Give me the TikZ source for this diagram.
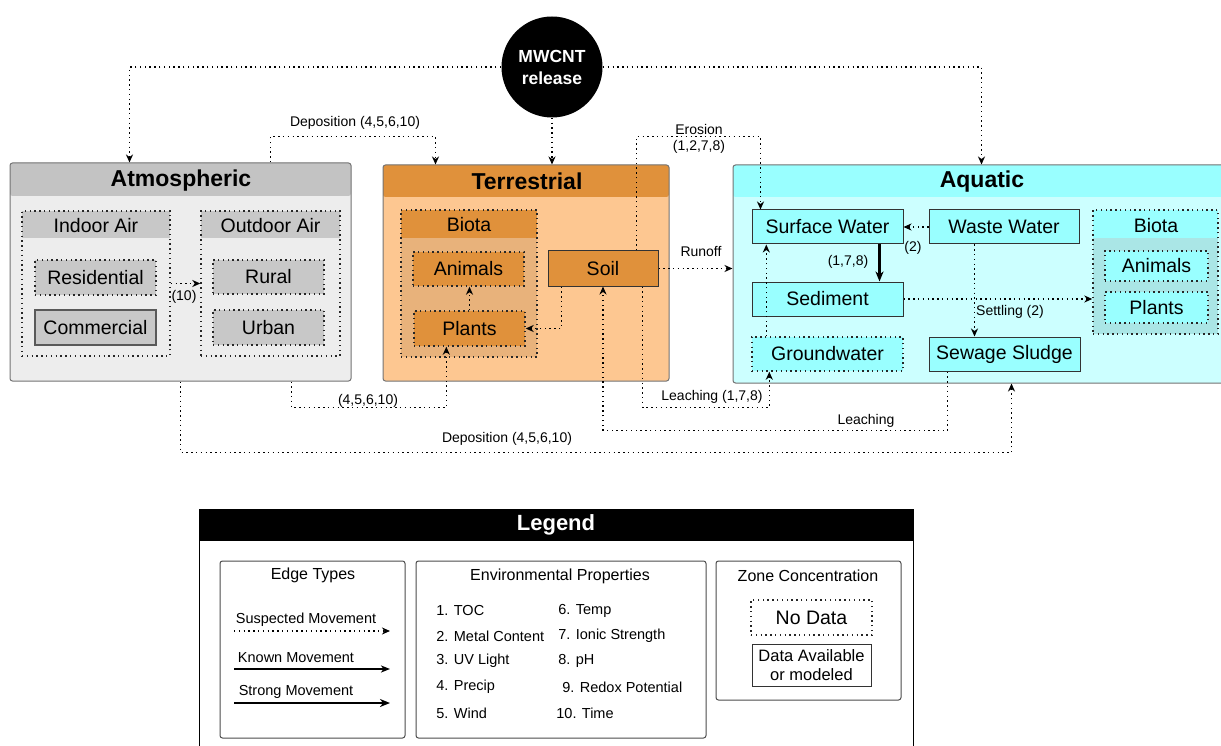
\documentclass[tikz,border=0pt]{standalone}
\usepackage{fontspec}
\setmainfont{Liberation Sans}
\usetikzlibrary{arrows.meta}
\definecolor{atmhead}{HTML}{C3C3C3}
\definecolor{atmbody}{HTML}{EDEDED}
\definecolor{atmleaf}{HTML}{C8C8C8}
\definecolor{terhead}{HTML}{E0913B}
\definecolor{terbody}{HTML}{FDC791}
\definecolor{terbiota}{HTML}{E8B27B}
\definecolor{aquhead}{HTML}{99FFFF}
\definecolor{aqubody}{HTML}{CCFFFF}
\definecolor{aqubiota}{HTML}{AAE6E6}
\begin{document}
\begin{tikzpicture}[x=1pt,y=-1pt,line width=0.8pt,every node/.style={inner sep=1pt},
  zone/.style={rectangle,rounded corners=2.5pt,draw=black!55,line width=1pt},
  band/.style 2 args={path picture={\fill[#1] (path picture bounding box.north west) rectangle ([yshift=-#2]path picture bounding box.north east);}},
  ttl/.style={font=\bfseries\fontsize{23}{26}\selectfont},
  txt/.style={font=\fontsize{19.5}{22}\selectfont},
  box/.style={rectangle,draw=black!80,line width=1pt,txt},
  dotbox/.style={rectangle,draw=black!85,line width=1.4pt,dash pattern=on 1.4pt off 3.4pt,txt},
  lbl/.style={font=\fontsize{14}{16}\selectfont},
  small/.style={font=\fontsize{14.5}{17}\selectfont},
  sub/.style={font=\fontsize{16}{19}\selectfont},
  flow/.style={line width=1.4pt,dash pattern=on 1.4pt off 3.4pt,-{Stealth[length=8pt,width=7pt,inset=2.5pt]}},
  known/.style={line width=1.6pt,-{Stealth[length=9pt,width=7pt,inset=2.5pt]}},
  strong/.style={line width=2.6pt,-{Stealth[length=10pt,width=8pt,inset=3pt]}}]
\useasboundingbox (0,0) rectangle (1221,746);
\clip (0,0) rectangle (1221,746);
% compartments
\node[zone,fill=atmbody,band={atmhead}{33pt},minimum width=341,minimum height=218] (atm) at (180.5,272) {};
\node[zone,fill=terbody,band={terhead}{32pt},minimum width=286,minimum height=216] (ter) at (526,273) {};
\node[zone,fill=aqubody,band={aquhead}{32pt},minimum width=507,minimum height=218] (aqu) at (986.5,274) {};
\node[ttl] (atmT) at (181,181) {Atmospheric};
\node[ttl] (terT) at (527,181) {Terrestrial};
\node[ttl] (aquT) at (982,182) {Aquatic};
% atmospheric
\node[dotbox,band={atmleaf}{27pt},minimum width=148,minimum height=145] (indoor) at (96,283.5) {};
\node[dotbox,band={atmleaf}{27pt},minimum width=139,minimum height=145] (outdoor) at (270.5,283.5) {};
\node[txt] (indoorT) at (96,226) {Indoor Air};
\node[txt] (outdoorT) at (270.5,226) {Outdoor Air};
\node[dotbox,fill=atmleaf,minimum width=121,minimum height=35] (res) at (95.5,277.5) {Residential};
\node[box,fill=atmleaf,draw=black!65,line width=1.6pt,minimum width=121,minimum height=35] (com) at (95.5,327.5) {Commercial};
\node[dotbox,fill=atmleaf,minimum width=111,minimum height=34] (rural) at (268.5,277) {Rural};
\node[dotbox,fill=atmleaf,minimum width=111,minimum height=35] (urban) at (268.5,327.5) {Urban};
% terrestrial
\node[dotbox,fill=terbiota,band={terhead}{28pt},minimum width=136,minimum height=147] (biotaT) at (469,283.5) {};
\node[txt] (biotaTT) at (469,225) {Biota};
\node[dotbox,fill=terhead,minimum width=111,minimum height=34] (animT) at (468.5,269) {Animals};
\node[dotbox,fill=terhead,minimum width=111,minimum height=35] (plantT) at (469.5,328.5) {Plants};
\node[box,fill=terhead,minimum width=110,minimum height=35] (soil) at (603,268.5) {Soil};
% aquatic
\node[box,fill=aquhead,minimum width=151,minimum height=34] (sw) at (827.5,227) {Surface Water};
\node[box,fill=aquhead,minimum width=150,minimum height=34] (ww) at (1004,227) {Waste Water};
\node[box,fill=aquhead,minimum width=151,minimum height=34] (sed) at (827.5,299) {Sediment};
\node[dotbox,fill=aquhead,minimum width=151,minimum height=34] (gw) at (827.5,354) {Groundwater};
\node[box,fill=aquhead,minimum width=151,minimum height=34] (ss) at (1004.5,354) {Sewage Sludge};
\node[dotbox,fill=aqubiota,band={aquhead}{28pt},minimum width=125,minimum height=124] (biotaA) at (1155.5,272) {};
\node[txt] (biotaAT) at (1156,226) {Biota};
\node[dotbox,fill=aquhead,minimum width=103,minimum height=30] (animA) at (1156.5,266) {Animals};
\node[dotbox,fill=aquhead,minimum width=103,minimum height=31] (plantA) at (1156.5,307.5) {Plants};
% release
\node[circle,fill=black,minimum size=101,text=white,align=center,font=\bfseries\fontsize{17.5}{22}\selectfont] (mw) at (552,67) {MWCNT\\release};
% flows
\draw[flow] (mw.west) -| ([xshift=120pt]atm.north west);
\draw[flow] (mw.east) -| ([xshift=249pt]aqu.north west);
\draw[flow] (mw.south) -- (mw.south |- ter.north);
\draw[flow] ([xshift=261pt]atm.north west) -- ++(0,-26) -| ([xshift=53pt]ter.north west);
\draw[flow] ([xshift=89pt]soil.north west) -- ++(0,-114) -| ([xshift=9pt]sw.north west);
\draw[flow] (soil.east) -- (soil.east -| aqu.west);
\draw[flow] ([xshift=14pt]soil.south west) |- (plantT.east);
\draw[flow] (plantT.north) -- (plantT.north |- animT.south);
\draw[flow] (indoor.east) -- (outdoor.west);
\draw[flow] ([xshift=282pt]atm.south west) -- ++(0,26) -| ([xshift=33pt]plantT.south west);
\draw[flow] ([xshift=171pt]atm.south west) -- ++(0,71) -| ([xshift=279pt]aqu.south west);
\draw[flow] ([xshift=95pt]soil.south west) -- ++(0,121) -| ([xshift=18pt]gw.south west);
\draw[flow] ([xshift=19pt]ss.south west) -- ++(0,59) -| (soil.south);
\draw[flow] (ww.west) -- (sw.east);
\draw[strong] ([xshift=128pt]sw.south west) -- ([xshift=128pt]sw.south west |- sed.north);
\draw[flow] ([xshift=15pt]gw.north west) -- ([xshift=15pt]gw.north west |- sw.south);
\draw[flow] ([xshift=46pt]ww.south west) -- ([xshift=46pt]ww.south west |- ss.north);
\draw[flow] (sed.east) -- (sed.east -| biotaA.west);
% flow labels
\node[lbl] (l1) at (355,123) {Deposition (4,5,6,10)};
\node[lbl,align=center] (l2) at (699,139) {Erosion\\(1,2,7,8)};
\node[lbl] (l3) at (701,252) {Runoff};
\node[lbl] (l4) at (184,297) {(10)};
\node[lbl] (l5) at (368,401) {(4,5,6,10)};
\node[lbl] (l6) at (507,439) {Deposition (4,5,6,10)};
\node[lbl] (l7) at (712,397) {Leaching (1,7,8)};
\node[lbl] (l8) at (866,421) {Leaching};
\node[lbl] (l9) at (913,248) {(2)};
\node[lbl] (l10) at (848,262) {(1,7,8)};
\node[lbl] (l11) at (1010,312) {Settling (2)};
% legend
\node[rectangle,draw=black,line width=1pt,fill=white,band={black}{32pt},minimum width=714,minimum height=241] (leg) at (556,629.5) {};
\node[text=white,font=\bfseries\fontsize{22}{26}\selectfont] (legT) at (556,525) {Legend};
\node[zone,draw=black!70,minimum width=185,minimum height=177] (edge) at (312.5,649.5) {};
\node[zone,draw=black!70,minimum width=290,minimum height=177] (env) at (561,649.5) {};
\node[zone,draw=black!70,minimum width=185,minimum height=139] (conc) at (808.5,630.5) {};
\node[sub] (edgeT) at (313,575) {Edge Types};
\node[sub] (envT) at (560,576) {Environmental Properties};
\node[sub] (concT) at (808,576) {Zone Concentration};
\coordinate (s0) at (234,631);
\coordinate (s1) at (390,631);
\coordinate (k0) at (234,669);
\coordinate (k1) at (390,669);
\coordinate (g0) at (234,703);
\coordinate (g1) at (390,703);
\draw[flow] (s0) -- (s1);
\draw[known] (k0) -- (k1);
\draw[strong] (g0) -- (g1);
\node[small] (sT) at (306,620) {Suspected Movement};
\node[small] (kT) at (296,658) {Known Movement};
\node[small] (gT) at (296,692) {Strong Movement};
\node[small,anchor=west] (p1) at (435,611) {1. TOC};
\node[small,anchor=west] (p2) at (435,636) {2. Metal Content};
\node[small,anchor=west] (p3) at (435,661) {3. UV Light};
\node[small,anchor=west] (p4) at (435,687) {4. Precip};
\node[small,anchor=west] (p5) at (435,713) {5. Wind};
\node[small,anchor=west] (p6) at (557,611) {6. Temp};
\node[small,anchor=west] (p7) at (557,636) {7. Ionic Strength};
\node[small,anchor=west] (p8) at (557,661) {8. pH};
\node[small,anchor=west] (p9) at (561,687) {9. Redox Potential};
\node[small,anchor=west] (p10) at (555,713) {10. Time};
\node[dotbox,minimum width=121,minimum height=35] (nod) at (811.5,617.5) {No Data};
\node[box,align=center,minimum width=119,minimum height=42,font=\fontsize{16.5}{19}\selectfont] (dav) at (811.5,665) {Data Available\\or modeled};
\end{tikzpicture}
\end{document}
